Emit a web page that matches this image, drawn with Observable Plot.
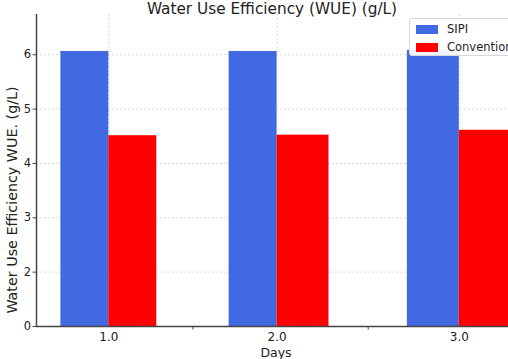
<!DOCTYPE html>
<html>
<head>
<meta charset="utf-8">
<script src="https://cdn.jsdelivr.net/npm/d3@7"></script>
<script src="https://cdn.jsdelivr.net/npm/@observablehq/plot@0.6"></script>
<style>
  html, body { margin: 0; padding: 0; background: #fff; overflow: hidden; }
  #wrap { position: relative; width: 508px; height: 359px; overflow: hidden; font-family: "DejaVu Sans", sans-serif; }
  #title { position: absolute; left: 0; width: 544px; top: 0px; text-align: center; font-size: 15.3px; color: #222; line-height: 19px; }
  #ylab { position: absolute; left: 12px; top: 200px; transform: translate(-50%, -50%) rotate(-90deg); white-space: nowrap; font-size: 14.3px; color: #222; }
  #xlab { position: absolute; left: 276px; top: 352px; transform: translate(-50%, -50%); font-size: 12.5px; color: #222; }
  #legend { position: absolute; left: 409px; top: 18px; width: 130px; height: 36px; border: 1px solid #d8d8d8; border-radius: 3px; background: rgba(255,255,255,0.92); font-size: 11.5px; color: #222; }
  .item { position: absolute; left: 6px; display: flex; align-items: center; white-space: nowrap; }
  .sw { width: 22px; height: 9px; margin-right: 9px; }
  svg { position: absolute; left: 0; top: 0; }
</style>
</head>
<body>
<div id="wrap">
  <div id="chart"></div>
  <div id="title">Water Use Efficiency (WUE) (g/L)</div>
  <div id="ylab">Water Use Efficiency WUE. (g/L)</div>
  <div id="xlab">Days</div>
  <div id="legend"></div>
</div>
<script>
const days = [1, 2, 3];
const dayLabels = ["1.0", "2.0", "3.0"];
const series = ["SIPI", "Conventional"];
const sipi = [6.06, 6.06, 6.08];
const conventional = [4.51, 4.52, 4.61];
const colors = ["#4169E1", "#FF0000"];
const yTicks = [0, 2, 3, 4, 5, 6];
const xMinorTicks = [1.5, 2.5];

// axis extents (data units)
const xMin = 0.57, xMax = 3.27;
const yMax = 6.74;
const barW = 0.285;

// the reference's axes are not evenly spaced: piecewise-linear transforms
const tx = d3.scaleLinear().domain([1, 2, 3]).range([1, 2, 2 + 182 / 168]);
const ty = d3.scaleLinear().domain([0, 2, 10]).range([1, 2, 10]);

const data = [];
days.forEach((d, i) => {
  data.push({day: d, series: series[0], value: sipi[i], x1: d - barW, x2: d});
  data.push({day: d, series: series[1], value: conventional[i], x1: d, x2: d + barW});
});

const plot = Plot.plot({
  width: 508,
  height: 359,
  marginTop: 14,
  marginBottom: 33,
  marginLeft: 36,
  marginRight: 0,
  style: {fontFamily: "DejaVu Sans, sans-serif", fontSize: "11.5px", color: "#222", background: "transparent"},
  x: {transform: tx, domain: [tx(xMin), tx(xMax)]},
  y: {transform: ty, domain: [ty(0), ty(yMax)]},
  color: {domain: series, range: colors},
  marks: [
    Plot.ruleY(yTicks.filter(t => t > 0), {stroke: "#d0d0d0", strokeDasharray: "2,2", strokeWidth: 0.8}),
    Plot.ruleX(days, {stroke: "#d0d0d0", strokeDasharray: "2,2", strokeWidth: 0.8}),
    Plot.rect(data, {x1: "x1", x2: "x2", y1: 0, y2: "value", fill: "series"}),
    // axis ticks are given in the transformed space and labelled with their data value
    Plot.axisY({ticks: yTicks.map(ty), tickFormat: u => String(Math.round(ty.invert(u))), tickSize: 3.5, tickPadding: 2, stroke: "#444", fontSize: 11.5, label: null}),
    Plot.axisX({ticks: days.map(tx), tickFormat: u => dayLabels[days.indexOf(Math.round(tx.invert(u)))], tickSize: 0, tickPadding: 6, fontSize: 12, label: null}),
    Plot.axisX({ticks: xMinorTicks.map(tx), tickFormat: () => "", tickSize: 3.5, stroke: "#444", label: null}),
    Plot.ruleY([0], {stroke: "#444", strokeWidth: 1.5}),
    Plot.ruleX([xMin], {y1: 0, y2: yMax, stroke: "#444", strokeWidth: 1.5})
  ]
});
document.getElementById("chart").appendChild(plot);

const legend = document.getElementById("legend");
series.forEach((s, i) => {
  const it = document.createElement("div");
  it.className = "item";
  it.style.top = (i === 0 ? 3 : 21) + "px";
  it.innerHTML = `<span class="sw" style="background:${colors[i]}"></span><span>${s}</span>`;
  legend.appendChild(it);
});
</script>
</body>
</html>
